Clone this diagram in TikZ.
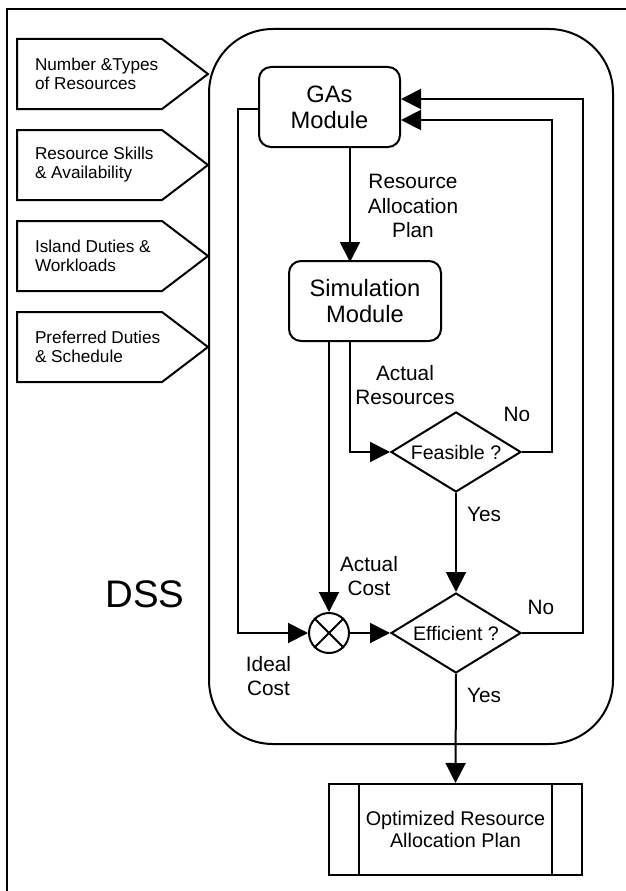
\documentclass[tikz,border=0pt]{standalone}
\usepackage{fontspec}
\setmainfont{Liberation Sans}
\usetikzlibrary{arrows.meta,shapes.geometric,calc}
\begin{document}
\begin{tikzpicture}[x=1pt,y=-1pt, line width=2pt,
  arr/.style={-{Triangle[length=20pt,width=20pt]}},
  module/.style={draw, rounded corners=12pt, inner sep=0pt, align=center, font=\fontsize{23.7}{26}\selectfont},
  dec/.style={draw, diamond, inner sep=0pt, minimum width=130pt, minimum height=80pt, shape aspect=1.625, font=\fontsize{19.6}{22}\selectfont},
  lbl/.style={inner sep=0pt, align=center, font=\fontsize{20.8}{24.5}\selectfont},
  intext/.style={inner sep=0pt, anchor=west, align=left, font=\fontsize{17.2}{19}\selectfont}]
\useasboundingbox (0,0) rectangle (626,891);
% outer frame (only top and left visible)
\draw[line width=2.2pt] (7,891) -- (7,9) -- (626,9);
% input pentagons
\draw (17,39) -- (162,39) -- (208,74) -- (162,109) -- (17,109) -- cycle;
\node[intext] (in1) at (34,74) {Number \&Types\\of Resources};
\draw (17,130) -- (162,130) -- (208,165) -- (162,200) -- (17,200) -- cycle;
\node[intext] (in2) at (34,165) {Resource Skills\\\& Availability};
\draw (17,221) -- (162,221) -- (208,256) -- (162,291) -- (17,291) -- cycle;
\node[intext] (in3) at (34,256) {Island Duties \&\\Workloads};
\draw (17,312) -- (162,312) -- (208,347) -- (162,382) -- (17,382) -- cycle;
\node[intext] (in4) at (34,347) {Preferred Duties\\\& Schedule};
% DSS container
\node[draw, rounded corners=64pt, minimum width=404pt, minimum height=715pt, inner sep=0pt] (dss) at (411,386.5) {};
\node[inner sep=0pt, font=\fontsize{38.4}{40}\selectfont] (dsslbl) at (145,594) {DSS};
% modules
\node[module, minimum width=141pt, minimum height=80pt] (gas) at (329.5,107) {GAs\\Module};
\node[module, minimum width=152pt, minimum height=80pt] (sim) at (365,301) {Simulation\\Module};
% decisions
\node[dec] (feas) at (456,452) {Feasible ?};
\node[dec] (eff) at (456,633) {Efficient ?};
% comparator
\node[draw, circle, minimum size=40pt, inner sep=0pt] (cmp) at (329,633) {};
\draw (cmp.45) -- (cmp.225) (cmp.135) -- (cmp.315);
% output
\node[draw, minimum width=253pt, minimum height=91pt, inner sep=0pt, align=center, font=\fontsize{19.8}{22.5}\selectfont] (out) at (455.5,829.5) {Optimized Resource\\Allocation Plan};
\draw ([xshift=31pt]out.north west) -- ([xshift=31pt]out.south west);
\draw ([xshift=-31pt]out.north east) -- ([xshift=-31pt]out.south east);
% connectors
\draw[arr] ([xshift=20.5pt]gas.south) -- ++(0,114);
\draw[arr] ([yshift=-2pt]gas.west) -- ++(-20,0) |- (cmp.west);
\draw[arr] (sim.south -| cmp.north) -- (cmp.north);
\draw[arr] ([xshift=-15pt]sim.south) |- (feas.west);
\draw[arr] (feas.east) -- ++(30,0) |- ([yshift=-13pt]gas.east);
\draw[arr] (eff.east) -- ++(61,0) |- ([yshift=8pt]gas.east);
\draw[arr] (feas.south) -- (eff.north);
\draw[arr] (cmp.east) -- (eff.west);
\draw[arr] (eff.south) -- (out.north);
% labels
\node[lbl] (l1) at (413,206) {Resource\\Allocation\\Plan};
\node[lbl] (l2) at (405,385) {Actual\\Resources};
\node[lbl] (l3) at (517,414) {No};
\node[lbl] (l4) at (484,514) {Yes};
\node[lbl] (l5) at (369,576) {Actual\\Cost};
\node[lbl] (l6) at (541,607) {No};
\node[lbl] (l7) at (484,695) {Yes};
\node[lbl] (l8) at (268.5,676) {Ideal\\Cost};
\end{tikzpicture}
\end{document}
